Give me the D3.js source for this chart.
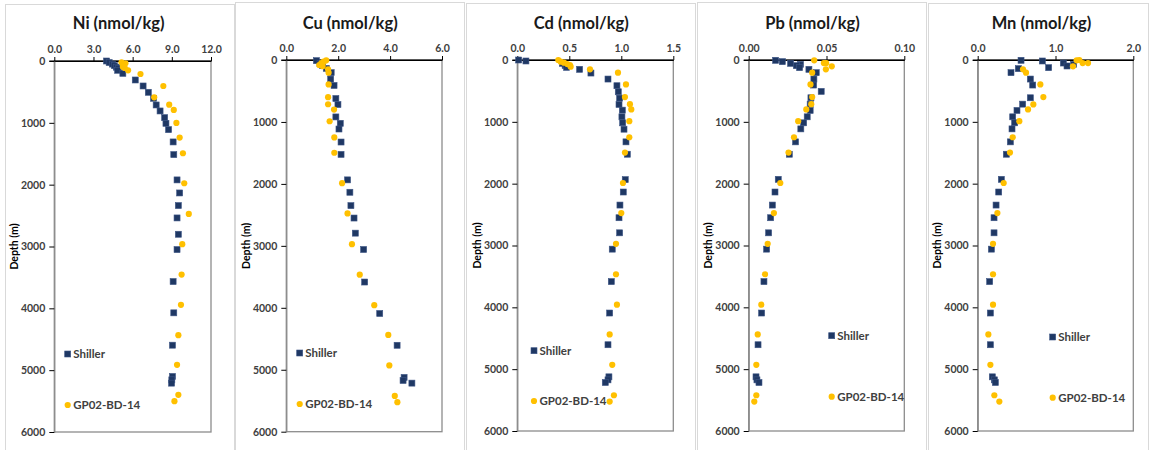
<!DOCTYPE html>
<html><head><meta charset="utf-8">
<script src="https://cdn.jsdelivr.net/npm/d3@7"></script>
<style>
html,body{margin:0;padding:0;background:#fff;}
svg{display:block;}
text{font-family:Lato,"Open Sans",sans-serif;}
</style></head>
<body>
<script>
// ---- data: [depth (m), value (nmol/kg)] ----
const elements = ["Ni", "Cu", "Cd", "Pb", "Mn"];
const seriesNames = ["Shiller", "GP02-BD-14"];
const depthTicks = [0, 1000, 2000, 3000, 4000, 5000, 6000];

const niTicks = [0, 3, 6, 9, 12];
const cuTicks = [0, 2, 4, 6];
const cdTicks = [0, 0.5, 1.0, 1.5];
const pbTicks = [0, 0.05, 0.10];
const mnTicks = [0, 1.0, 2.0];

const niShiller = [[0,4.0],[25,4.2],[50,4.45],[75,4.6],[100,4.75],[125,4.9],[150,4.85],[200,5.25],[307,6.2],[404,6.8],[506,7.2],[603,7.6],[711,7.8],[808,8.1],[916,8.45],[1008,8.55],[1110,8.75],[1309,9.1],[1514,9.15],[1923,9.4],[2134,9.6],[2338,9.5],[2538,9.4],[2802,9.5],[3050,9.4],[3567,9.1],[4073,9.15],[4596,9.05],[5102,9.05],[5156,9.0],[5210,8.98]];
const niGP = [[22,5.15],[38,5.45],[60,5.3],[92,5.25],[113,5.4],[151,5.65],[210,6.6],[404,8.35],[587,7.65],[706,8.8],[792,9.15],[1002,9.35],[1239,9.6],[1492,9.85],[1977,9.95],[2473,10.3],[2963,9.8],[3454,9.75],[3944,9.7],[4434,9.5],[4914,9.4],[5399,9.5],[5501,9.2]];

const cuShiller = [[11,1.16],[60,1.3],[92,1.4],[135,1.54],[205,1.73],[308,1.71],[411,1.84],[622,1.91],[719,1.99],[919,1.91],[1022,2.08],[1114,2.03],[1324,2.11],[1524,2.11],[1935,2.36],[2135,2.45],[2351,2.49],[2551,2.61],[2795,2.66],[3059,2.98],[3584,3.02],[4092,3.6],[4605,4.27],[5124,4.54],[5173,4.5],[5216,4.84]];
const cuGP = [[5,1.54],[27,1.44],[50,1.35],[81,1.27],[100,1.4],[151,1.61],[205,1.63],[395,1.63],[600,1.61],[714,1.61],[800,1.84],[989,1.67],[1249,1.85],[1497,1.85],[1989,2.15],[2476,2.36],[2973,2.53],[3465,2.83],[3957,3.39],[4438,3.93],[4930,3.97],[5422,4.18],[5524,4.28]];

const cdShiller = [[0,0.013],[16,0.083],[54,0.433],[90,0.46],[119,0.474],[151,0.599],[211,0.708],[308,0.872],[416,0.958],[514,0.971],[616,0.984],[719,0.978],[811,1.01],[919,1.006],[1016,1.013],[1119,1.026],[1324,1.045],[1524,1.058],[1935,1.038],[2135,1.019],[2346,0.987],[2551,0.978],[2795,0.984],[3059,0.913],[3584,0.904],[4092,0.888],[4605,0.872],[5124,0.881],[5173,0.872],[5216,0.846]];
const cdGP = [[0,0.394],[27,0.417],[43,0.449],[65,0.481],[81,0.506],[108,0.513],[151,0.699],[205,0.968],[395,1.045],[600,1.035],[714,1.083],[800,1.096],[989,1.077],[1249,1.077],[1497,1.035],[1989,1.016],[2476,1.0],[2973,0.949],[3465,0.949],[3957,0.958],[4438,0.888],[4930,0.913],[5422,0.929],[5524,0.888]];

const pbShiller = [[5,0.0173],[27,0.0216],[54,0.0269],[70,0.0333],[92,0.0306],[124,0.0327],[151,0.0387],[205,0.0434],[308,0.0419],[405,0.0417],[508,0.0466],[611,0.040],[714,0.0395],[816,0.0395],[919,0.0376],[1016,0.0353],[1114,0.0335],[1324,0.0301],[1524,0.0261],[1930,0.019],[2135,0.0169],[2346,0.0152],[2551,0.0141],[2795,0.0128],[3059,0.0115],[3584,0.0098],[4092,0.0083],[4605,0.006],[5124,0.0047],[5173,0.0053],[5216,0.0066]];
const pbGP = [[5,0.0421],[49,0.0483],[49,0.0498],[103,0.0534],[151,0.0496],[205,0.0408],[395,0.0397],[600,0.0408],[714,0.0402],[800,0.037],[989,0.0318],[1249,0.0291],[1497,0.0256],[1989,0.0203],[2476,0.0162],[2973,0.0122],[3465,0.0105],[3957,0.0081],[4438,0.0058],[4930,0.0049],[5422,0.0049],[5524,0.0036]];

const mnShiller = [[5,0.557],[16,0.831],[49,1.101],[70,1.233],[97,1.148],[124,0.912],[140,0.522],[205,0.428],[308,0.677],[405,0.707],[611,0.677],[714,0.578],[816,0.505],[919,0.45],[1016,0.475],[1114,0.441],[1324,0.42],[1524,0.368],[1930,0.304],[2135,0.27],[2346,0.236],[2551,0.21],[2795,0.21],[3059,0.176],[3584,0.154],[4092,0.163],[4605,0.163],[5124,0.188],[5173,0.214],[5216,0.227]];
const mnGP = [[0,1.306],[5,1.272],[49,1.349],[49,1.418],[103,1.225],[151,0.582],[205,0.621],[395,0.805],[600,0.844],[719,0.715],[800,0.647],[989,0.535],[1249,0.45],[1497,0.415],[1989,0.334],[2476,0.253],[2973,0.197],[3465,0.197],[3957,0.197],[4438,0.137],[4930,0.163],[5422,0.214],[5524,0.278]];

// ---- layout ----
const W = 1151, H = 450;
const panels = [
  {name: elements[0], ticks: niTicks, fmt: ".1f", shiller: niShiller, gp: niGP,
   frame: [5, 234, 4], plot: [54.3, 211, 61, 432], leg: [13.4, 354, 405]},
  {name: elements[1], ticks: cuTicks, fmt: ".1f", shiller: cuShiller, gp: cuGP,
   frame: [235, 464, 2], plot: [286.3, 442, 60, 431.7], leg: [13.4, 353, 404]},
  {name: elements[2], ticks: cdTicks, fmt: ".1f", shiller: cdShiller, gp: cdGP,
   frame: [466, 695, 3], plot: [517.3, 673.3, 60, 431], leg: [16.7, 350.7, 401]},
  {name: elements[3], ticks: pbTicks, fmt: ".2f", shiller: pbShiller, gp: pbGP,
   frame: [697, 926, 2], plot: [748.7, 904.3, 60, 431], leg: [83, 335.7, 396.7]},
  {name: elements[4], ticks: mnTicks, fmt: ".1f", shiller: mnShiller, gp: mnGP,
   frame: [928, 1148, 3], plot: [977.7, 1133.3, 60, 431], leg: [75, 337, 397.7]}
];

const navy = "#1f3864", gold = "#ffc000";
const svg = d3.select("body").append("svg").attr("width", W).attr("height", H);

panels.forEach(p => {
  const [fx0, fx1, fy0] = p.frame;
  const [px0, px1, py0, py1] = p.plot;
  const g = svg.append("g");

  g.append("rect").attr("x", fx0 + 0.5).attr("y", fy0 + 0.5)
    .attr("width", fx1 - fx0).attr("height", H + 20)
    .attr("fill", "#fff").attr("stroke", "#d9d9d9").attr("stroke-width", 1);

  const x = d3.scaleLinear().domain([p.ticks[0], p.ticks[p.ticks.length - 1]]).range([px0, px1]);
  const y = d3.scaleLinear().domain([0, 6000]).range([py0, py1]);

  // plot area border
  g.append("rect").attr("x", px0).attr("y", py0).attr("width", px1 - px0).attr("height", py1 - py0)
    .attr("fill", "none").attr("stroke", "#8c8c8c").attr("stroke-width", 1.3);

  // title
  g.append("text").attr("x", (px0 + px1) / 2 - 14).attr("y", 29)
    .attr("text-anchor", "middle").attr("font-size", 16.5).attr("font-weight", 700)
    .attr("fill", "#1a1a1a").text(p.name + " (nmol/kg)");

  // top axis
  const xa = g.append("g").attr("transform", `translate(0,${py0})`)
    .call(d3.axisTop(x).tickValues(p.ticks).tickFormat(d3.format(p.fmt)).tickSize(4).tickSizeOuter(0).tickPadding(4));
  xa.select(".domain").attr("stroke", "#000").attr("stroke-width", 1.2);
  xa.selectAll(".tick line").attr("stroke", "#000");
  xa.selectAll("text").attr("font-size", 10.5).attr("font-weight", 700).attr("fill", "#404040")
    .attr("font-family", "Lato, sans-serif");

  // left axis
  const ya = g.append("g").attr("transform", `translate(${px0},0)`)
    .call(d3.axisLeft(y).tickValues(depthTicks).tickFormat(d3.format("d")).tickSize(5).tickSizeOuter(0).tickPadding(4));
  ya.select(".domain").attr("stroke", "#8c8c8c").attr("stroke-width", 1.3);
  ya.selectAll(".tick line").attr("stroke", "#000");
  ya.selectAll("text").attr("font-size", 10.5).attr("font-weight", 700).attr("fill", "#404040")
    .attr("font-family", "Lato, sans-serif");
  // redraw top axis line over
  g.append("line").attr("x1", px0 - 5).attr("x2", px1).attr("y1", py0).attr("y2", py0)
    .attr("stroke", "#000").attr("stroke-width", 1.2);

  // y label
  g.append("text").attr("transform", `translate(${px0 - 40},${(py0 + py1) / 2}) rotate(-90)`)
    .attr("text-anchor", "middle").attr("dy", "0.35em").attr("font-size", 10.5).attr("font-weight", 700)
    .attr("fill", "#000").text("Depth (m)");

  // markers
  const s = 6;
  g.append("g").selectAll("rect").data(p.shiller).join("rect")
    .attr("x", d => x(d[1]) - s / 2).attr("y", d => y(d[0]) - s / 2)
    .attr("width", s).attr("height", s).attr("fill", navy)
    .attr("stroke", "#3d5585").attr("stroke-width", 0.6);
  g.append("g").selectAll("circle").data(p.gp).join("circle")
    .attr("cx", d => x(d[1])).attr("cy", d => y(d[0])).attr("r", 3.1).attr("fill", gold);

  // legend
  const lx = px0 + p.leg[0];
  g.append("rect").attr("x", lx - s / 2).attr("y", p.leg[1] - s / 2).attr("width", s).attr("height", s)
    .attr("fill", navy).attr("stroke", "#3d5585").attr("stroke-width", 0.6);
  g.append("text").attr("x", lx + 5.5).attr("y", p.leg[1]).attr("dy", "0.36em")
    .attr("font-size", 11.5).attr("font-weight", 700).attr("fill", "#404040").text(seriesNames[0]);
  g.append("circle").attr("cx", lx).attr("cy", p.leg[2]).attr("r", 3.1).attr("fill", gold);
  g.append("text").attr("x", lx + 5.5).attr("y", p.leg[2]).attr("dy", "0.36em")
    .attr("font-size", 11.5).attr("font-weight", 700).attr("fill", "#404040").text(seriesNames[1]);
});
</script>
</body></html>
